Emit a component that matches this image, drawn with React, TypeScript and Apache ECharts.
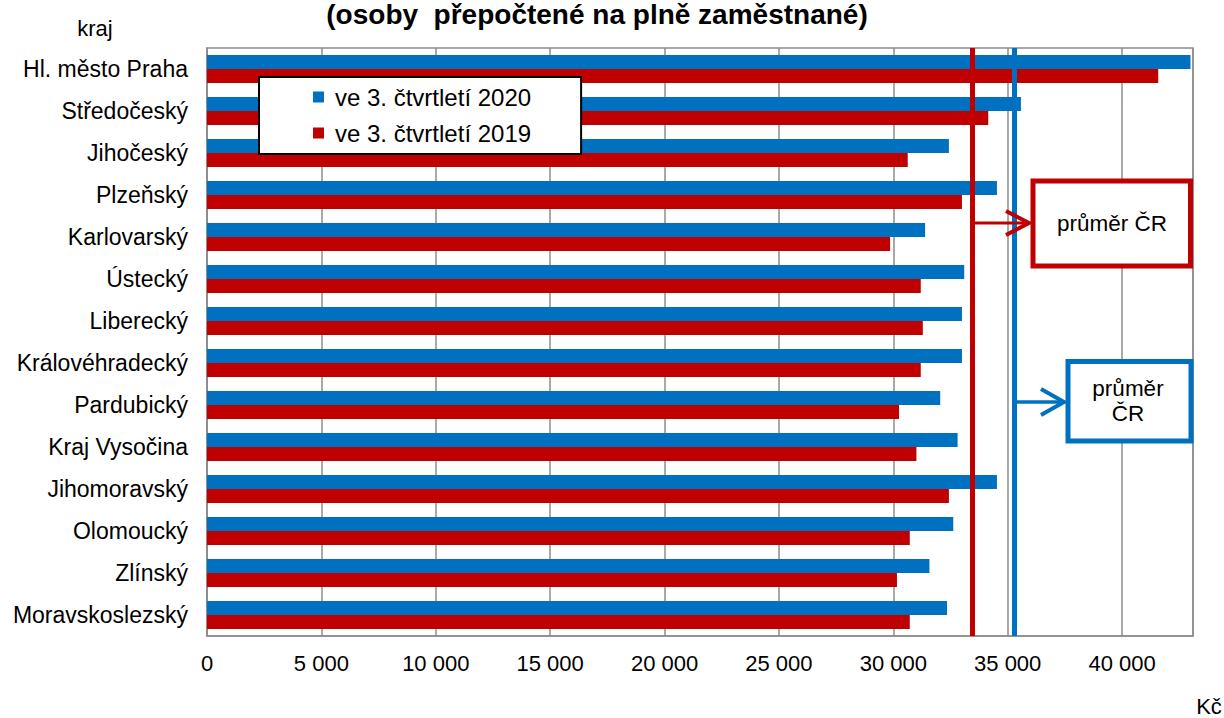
import React, { useEffect, useRef } from 'react';
import * as echarts from 'echarts';

const categories = [
  'Hl. město Praha',
  'Středočeský',
  'Jihočeský',
  'Plzeňský',
  'Karlovarský',
  'Ústecký',
  'Liberecký',
  'Královéhradecký',
  'Pardubický',
  'Kraj Vysočina',
  'Jihomoravský',
  'Olomoucký',
  'Zlínský',
  'Moravskoslezský',
];
const wage2020 = [42990, 35580, 32430, 34530, 31390, 33100, 33000, 33000, 32050, 32810, 34530, 32620, 31580, 32350];
const wage2019 = [41580, 34150, 30630, 33000, 29860, 31200, 31290, 31200, 30250, 31010, 32430, 30720, 30160, 30720];
const avg2020 = 35300;
const avg2019 = 33450;
const seriesNames = ['ve 3. čtvrtletí 2020', 've 3. čtvrtletí 2019'];
const titleText = '(osoby  přepočtené na plně zaměstnané)';
const yAxisTitle = 'kraj';
const xAxisUnit = 'Kč';
const avgLabel = 'průměr ČR';
const avgLabelWrapped = 'průměr\nČR';
const xMin = 0;
const xMax = 43100;
const xStep = 5000;

const BLUE = '#0070C0';
const RED = '#C00000';
const FONT = '"Liberation Sans", Arial, sans-serif';

function fmt(v: number): string {
  if (v % xStep !== 0) return '';
  const s = String(Math.round(v));
  return s.replace(/\B(?=(\d{3})+(?!\d))/g, ' ');
}

export default function App() {
  const ref = useRef<HTMLDivElement>(null);
  useEffect(() => {
    if (!ref.current) return;
    const chart = echarts.init(ref.current, undefined, { renderer: 'svg' });
    chart.setOption({
      animation: false,
      backgroundColor: '#fff',
      grid: {
        left: 207,
        right: 31,
        top: 48,
        bottom: 82,
        show: true,
        borderColor: '#8c8c8c',
        borderWidth: 1.5,
        backgroundColor: '#fff',
      },
      legend: {
        orient: 'vertical',
        left: 259,
        top: 77,
        data: seriesNames,
        backgroundColor: '#fff',
        borderColor: '#000',
        borderWidth: 2,
        borderRadius: 0,
        padding: [8, 50, 9, 54],
        itemGap: 12,
        itemWidth: 11,
        itemHeight: 11,
        icon: 'rect',
        selectedMode: false,
        textStyle: {
          fontFamily: FONT,
          fontSize: 24,
          color: '#000',
          lineHeight: 24,
          padding: [0, 0, 0, 6],
        },
      },
      xAxis: {
        type: 'value',
        min: xMin,
        max: xMax,
        interval: xStep,
        axisLine: { show: true, lineStyle: { color: '#8c8c8c', width: 1.5 } },
        axisTick: { show: false },
        splitLine: { show: true, lineStyle: { color: '#8c8c8c', width: 1.5 } },
        axisLabel: {
          formatter: fmt,
          fontFamily: FONT,
          fontSize: 22,
          color: '#000',
          margin: 16,
        },
      },
      yAxis: {
        type: 'category',
        data: categories,
        inverse: true,
        axisLine: { show: true, lineStyle: { color: '#8c8c8c', width: 1.5 } },
        axisTick: { show: false },
        splitLine: { show: false },
        axisLabel: {
          fontFamily: FONT,
          fontSize: 23,
          color: '#000',
          margin: 19,
        },
      },
      series: [
        {
          name: seriesNames[0],
          type: 'bar',
          data: wage2020,
          barWidth: 14,
          barGap: '0%',
          itemStyle: { color: BLUE },
          markLine: {
            silent: true,
            symbol: ['none', 'none'],
            label: { show: false },
            z: 10,
            lineStyle: { color: BLUE, width: 5, type: 'solid' },
            data: [{ xAxis: avg2020 }],
          },
        },
        {
          name: seriesNames[1],
          type: 'bar',
          data: wage2019,
          barWidth: 14,
          barGap: '0%',
          itemStyle: { color: RED },
          markLine: {
            silent: true,
            symbol: ['none', 'none'],
            label: { show: false },
            z: 10,
            lineStyle: { color: RED, width: 5, type: 'solid' },
            data: [{ xAxis: avg2019 }],
          },
        },
      ],
    });

    const xr = chart.convertToPixel({ xAxisIndex: 0 }, avg2019) as number;
    const xb = chart.convertToPixel({ xAxisIndex: 0 }, avg2020) as number;

    const txt = (x: number, y: number, text: string, size: number, extra: any = {}) => ({
      type: 'text',
      x,
      y,
      z: 100,
      style: {
        text,
        fill: '#000',
        fontFamily: FONT,
        fontSize: size,
        align: 'center',
        textAlign: 'center',
        verticalAlign: 'middle',
        textVerticalAlign: 'middle',
        ...extra,
      },
    });

    chart.setOption({
      graphic: [
        txt(597, 14, titleText, 28, { fontWeight: 'bold' }),
        txt(95, 28, yAxisTitle, 22),
        txt(1209, 706, xAxisUnit, 22),
        // red annotation
        {
          type: 'line',
          z: 100,
          shape: { x1: xr + 2, y1: 223, x2: 1029, y2: 223 },
          style: { stroke: RED, lineWidth: 3 },
        },
        {
          type: 'polyline',
          z: 100,
          shape: { points: [[1006, 211], [1029, 223], [1006, 235]] },
          style: { stroke: RED, lineWidth: 4, fill: 'none' },
        },
        {
          type: 'rect',
          z: 100,
          shape: { x: 1033, y: 181, width: 157.5, height: 85 },
          style: { fill: '#fff', stroke: RED, lineWidth: 5 },
        },
        txt(1112, 223, avgLabel, 22.5),
        // blue annotation
        {
          type: 'line',
          z: 100,
          shape: { x1: xb + 2, y1: 402, x2: 1064, y2: 402 },
          style: { stroke: BLUE, lineWidth: 3.5 },
        },
        {
          type: 'polyline',
          z: 100,
          shape: { points: [[1041, 389], [1064, 402], [1041, 415]] },
          style: { stroke: BLUE, lineWidth: 4, fill: 'none' },
        },
        {
          type: 'rect',
          z: 100,
          shape: { x: 1068, y: 361.5, width: 123, height: 79.5 },
          style: { fill: '#fff', stroke: BLUE, lineWidth: 5 },
        },
        txt(1128, 401, avgLabelWrapped, 22.5, { lineHeight: 25 }),
      ],
    });

    return () => chart.dispose();
  }, []);
  return (
    <div
      ref={ref}
      style={{ position: 'fixed', left: 0, top: 0, width: 1224, height: 718, background: '#fff' }}
    />
  );
}
